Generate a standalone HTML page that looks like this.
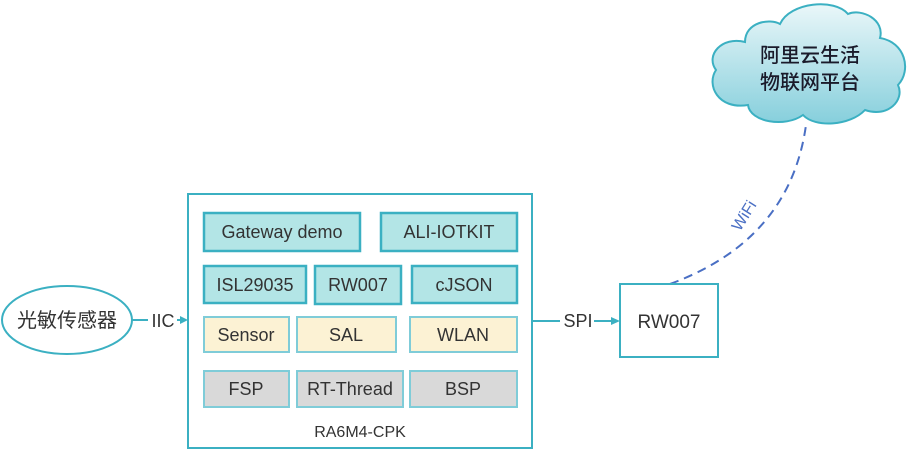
<!DOCTYPE html>
<html><head><meta charset="utf-8"><style>
html,body{margin:0;padding:0;background:#fff;}
svg{display:block;}
text{font-family:"Liberation Sans","Noto Sans CJK SC",sans-serif;}
</style></head><body>
<svg width="911" height="453" viewBox="0 0 911 453" xmlns="http://www.w3.org/2000/svg">
<defs>
<linearGradient id="cg" x1="0" y1="0" x2="0" y2="1">
<stop offset="0" stop-color="#eaf7f9"/><stop offset="1" stop-color="#86cfdc"/>
</linearGradient>
</defs>
<path d="M745,42 C745,22 770,18 780,24 C790,2 835,-2 848,14 C862,8 885,20 880,38 C905,42 912,70 898,85 C905,100 888,118 865,110 C850,126 815,128 803,115 C785,128 750,122 748,105 C718,110 706,85 716,70 C705,55 722,36 745,42 Z" fill="url(#cg)" stroke="#3bb0c2" stroke-width="2"/>
<text x="810" y="62" font-size="20" font-weight="500" text-anchor="middle" fill="#1a1a2a">阿里云生活</text>
<text x="810" y="89" font-size="20" font-weight="500" text-anchor="middle" fill="#1a1a2a">物联网平台</text>
<path d="M670,284 Q790,240 806,125" fill="none" stroke="#4a6fc4" stroke-width="2" stroke-dasharray="9,6"/>
<text x="0" y="0" font-size="16" fill="#4a6fc4" transform="translate(740,232) rotate(-58)">WiFi</text>
<rect x="188" y="194" width="344" height="254" fill="#fff" stroke="#3bb0c2" stroke-width="2"/>
<g stroke="#3bb0c2" stroke-width="2.5">
<rect x="204" y="213" width="156" height="38" fill="#b3e5e6"/>
<rect x="381" y="213" width="136" height="38" fill="#b3e5e6"/>
<rect x="204" y="266" width="102" height="37" fill="#b3e5e6"/>
<rect x="315" y="266" width="86" height="38" fill="#b3e5e6"/>
<rect x="412" y="266" width="105" height="37" fill="#b3e5e6"/>
</g>
<g stroke="#7fccd8" stroke-width="2">
<rect x="204" y="317" width="85" height="35" fill="#fcf2d4"/>
<rect x="297" y="317" width="99" height="35" fill="#fcf2d4"/>
<rect x="410" y="317" width="107" height="35" fill="#fcf2d4"/>
<rect x="204" y="371" width="85" height="36" fill="#d9d9d9"/>
<rect x="297" y="371" width="106" height="36" fill="#d9d9d9"/>
<rect x="410" y="371" width="107" height="36" fill="#d9d9d9"/>
</g>
<g font-size="18" fill="#333" text-anchor="middle">
<text x="282" y="238">Gateway demo</text>
<text x="449" y="238">ALI-IOTKIT</text>
<text x="255" y="291">ISL29035</text>
<text x="358" y="291">RW007</text>
<text x="464" y="291">cJSON</text>
<text x="246" y="341">Sensor</text>
<text x="346" y="341">SAL</text>
<text x="463" y="341">WLAN</text>
<text x="246" y="395">FSP</text>
<text x="350" y="395">RT-Thread</text>
<text x="463" y="395">BSP</text>
<text x="360" y="437" font-size="16">RA6M4-CPK</text>
</g>
<ellipse cx="67" cy="320" rx="65" ry="34" fill="#fff" stroke="#3bb0c2" stroke-width="2"/>
<text x="67" y="327" font-size="20" text-anchor="middle" fill="#333">光敏传感器</text>
<line x1="132" y1="320" x2="148" y2="320" stroke="#3bb0c2" stroke-width="2"/>
<text x="163" y="327" font-size="18" text-anchor="middle" fill="#333">IIC</text>
<line x1="177" y1="320" x2="182" y2="320" stroke="#3bb0c2" stroke-width="2"/>
<polygon points="188,320 180,316 180,324" fill="#3bb0c2"/>
<line x1="532" y1="321" x2="560" y2="321" stroke="#3bb0c2" stroke-width="2"/>
<text x="578" y="327" font-size="18" text-anchor="middle" fill="#333">SPI</text>
<line x1="594" y1="321" x2="612" y2="321" stroke="#3bb0c2" stroke-width="2"/>
<polygon points="620,321 611,317 611,325" fill="#3bb0c2"/>
<rect x="620" y="284" width="98" height="73" fill="#fff" stroke="#3bb0c2" stroke-width="2"/>
<text x="669" y="328" font-size="19" text-anchor="middle" fill="#333">RW007</text>
</svg>
</body></html>
